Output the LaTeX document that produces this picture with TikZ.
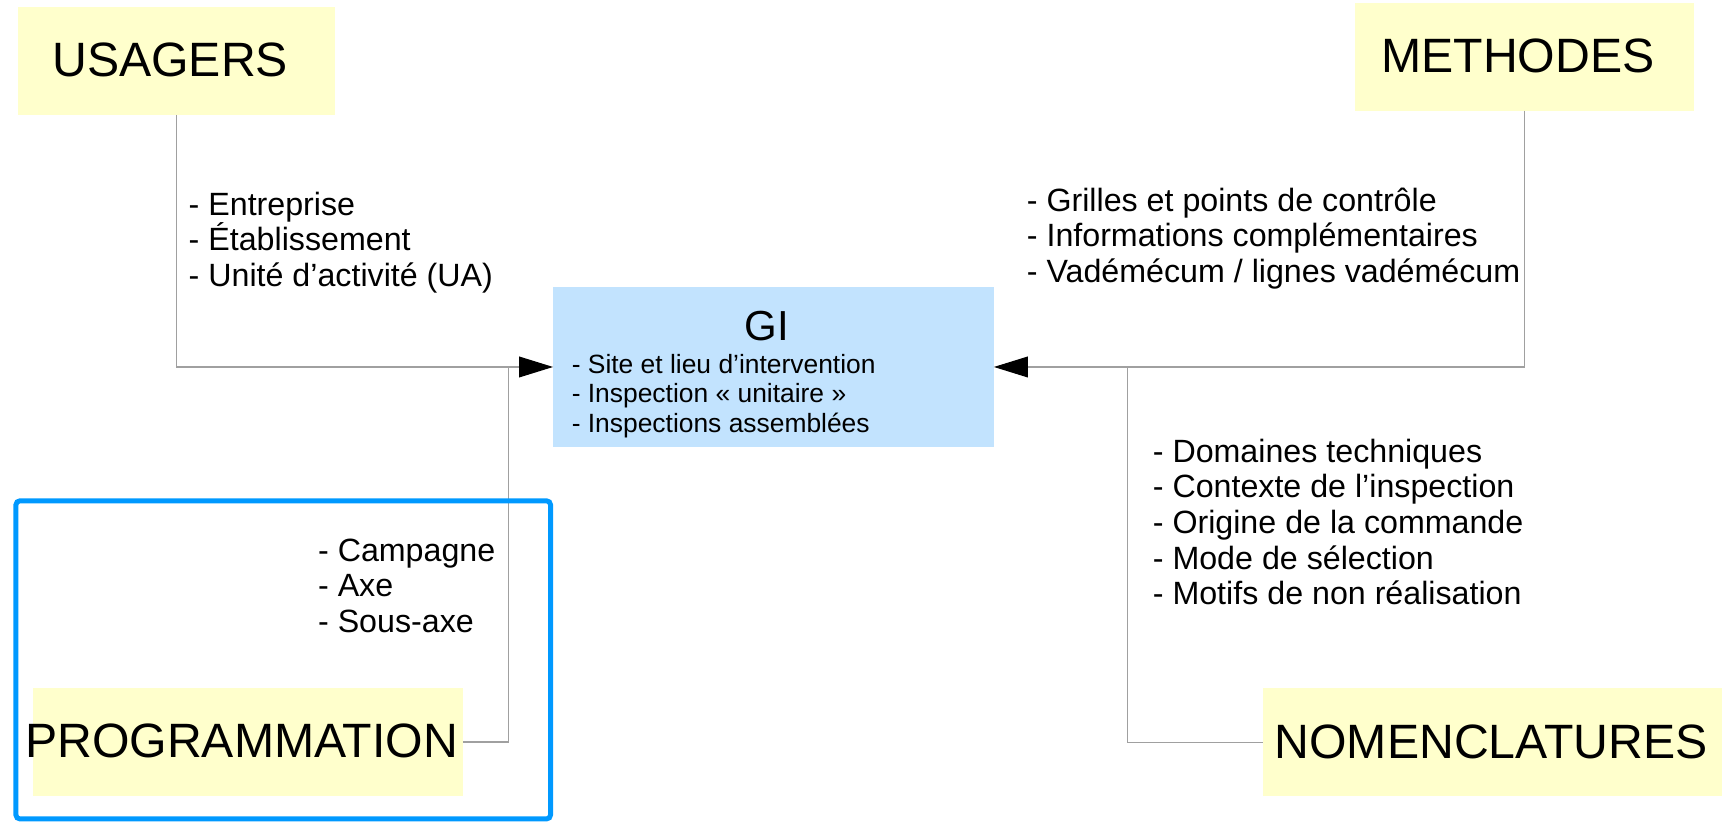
\documentclass[tikz,border=0pt]{standalone}
\usepackage{fontspec}
\setmainfont{Liberation Sans}
\usetikzlibrary{arrows.meta}
\definecolor{boxyellow}{HTML}{FFFFCC}
\definecolor{giblue}{HTML}{C2E3FE}
\definecolor{frameblue}{HTML}{0099FF}
\definecolor{linegray}{HTML}{A0A0A0}
\def\s{0.5491pt}
\begin{document}
\begin{tikzpicture}[x=0.5491pt,y=-0.5491pt,
  ybox/.style={fill=boxyellow, inner sep=0, outer sep=0},
  bbox/.style={fill=giblue, inner sep=0, outer sep=0},
  title/.style={font=\fontsize{24.1}{28}\selectfont, inner sep=0, anchor=base west},
  listtxt/.style={font=\fontsize{16.1}{17.8}\selectfont, align=left, inner sep=0, anchor=base west},
  gitxt/.style={font=\fontsize{13.2}{14.7}\selectfont, align=left, inner sep=0, anchor=base west},
  conn/.style={draw=linegray, line width=0.55pt},
  arr/.style={-{Triangle[length=17pt,width=10.4pt,color=black]}}
]
\useasboundingbox (0,0) rectangle (1568,751);

% boxes
\node[ybox, minimum width=288.3*\s, minimum height=98*\s] (usagers) at (160.85,55.7) {};
\node[ybox, minimum width=309*\s, minimum height=98.4*\s] (methodes) at (1388,51.6) {};
\node[bbox, minimum width=401.4*\s, minimum height=145.1*\s] (gi) at (704.3,334.15) {};
\node[ybox, minimum width=392.1*\s, minimum height=97.7*\s] (prog) at (225.65,675.65) {};
\node[ybox, minimum width=418.3*\s, minimum height=98*\s] (nomen) at (1358.85,675.8) {};

% titles
\node[title] (usagers-t) at (47.3,69.8) {USAGERS};
\node[title] (methodes-t) at (1257.4,66.2) {METHODES};
\node[title] (prog-t) at (22.5,689.6) {PROGRAMMATION};
\node[title] (nomen-t) at (1160.3,690.5) {NOMENCLATURES};
\node[font=\fontsize{21}{24}\selectfont, inner sep=0, anchor=base] (gi-t) at (698,309.6) {GI};

% lists (anchored at the baseline of their last line)
\node[gitxt] (gi-l) at (520.3,393.5) {- Site et lieu d’intervention\\- Inspection «~unitaire~»\\- Inspections assemblées};
\node[listtxt] (usagers-l) at (171.5,260.6) {- Entreprise\\- Établissement\\- Unité d’activité (UA)};
\node[listtxt] (methodes-l) at (934.7,257) {- Grilles et points de contrôle\\- Informations complémentaires\\- Vadémécum / lignes vadémécum};
\node[listtxt] (prog-l) at (289.3,575.8) {- Campagne\\- Axe\\- Sous-axe};
\node[listtxt] (nomen-l) at (1049.4,550.7) {- Domaines techniques\\- Contexte de l’inspection\\- Origine de la commande\\- Mode de sélection\\- Motifs de non réalisation};

% connectors
\coordinate (jp) at (462.7,334.15);
\coordinate (jn) at (1027,334.15);
\draw[conn, arr] (usagers.south) |- (gi.west);
\draw[conn, arr] (methodes.south) |- (gi.east);
\draw[conn] (prog.east) -| (jp);
\draw[conn] (nomen.west) -| (jn);

% frame
\draw[frameblue, line width=2.47pt, rounded corners=2pt] (14.5,456) rectangle (501.3,745.7);
\end{tikzpicture}
\end{document}
